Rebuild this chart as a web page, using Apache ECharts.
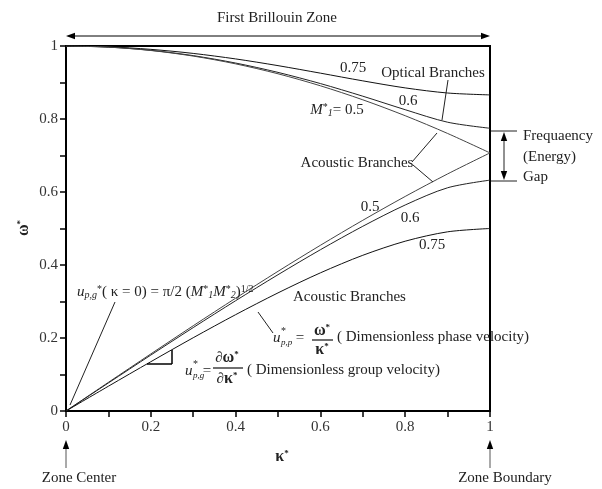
<!DOCTYPE html>
<html><head><meta charset="utf-8">
<script src="https://cdn.jsdelivr.net/npm/echarts@6/dist/echarts.min.js"></script>
<style>html,body{margin:0;padding:0;background:#fff}#c{width:602px;height:489px}</style>
</head><body><div id="c"></div>
<script>
// Dimensionless wave number kappa*
const kappa = [0, 0.1, 0.2, 0.3, 0.4, 0.5, 0.6, 0.7, 0.8, 0.9, 1.0];
// Optical branches (omega*)
const optical050 = [1, 0.9969, 0.9877, 0.9724, 0.9511, 0.9239, 0.8910, 0.8526, 0.8090, 0.7604, 0.7071];
const optical060 = [1, 0.9970, 0.9882, 0.9736, 0.9533, 0.9277, 0.8971, 0.8625, 0.8255, 0.7912, 0.7746];
const optical075 = [1, 0.9977, 0.9908, 0.9797, 0.9646, 0.9462, 0.9256, 0.9045, 0.8852, 0.8712, 0.8660];
// Acoustic branches (omega*)
const acoustic050 = [0, 0.0785, 0.1564, 0.2335, 0.3090, 0.3827, 0.4540, 0.5225, 0.5878, 0.6495, 0.7071];
const acoustic060 = [0, 0.0768, 0.1532, 0.2285, 0.3021, 0.3734, 0.4418, 0.5061, 0.5644, 0.6116, 0.6325];
const acoustic075 = [0, 0.0679, 0.1350, 0.2007, 0.2639, 0.3236, 0.3785, 0.4266, 0.4652, 0.4909, 0.5000];
// Tick labels
const xTickLabels = ['0', '', '0.2', '', '0.4', '', '0.6', '', '0.8', '', '1'];
const yTickLabels = ['0', '', '0.2', '', '0.4', '', '0.6', '', '0.8', '', '1'];

const F = '"Liberation Serif", "Times New Roman", serif';
const INK = '#222';
const chart = echarts.init(document.getElementById('c'), null, {renderer: 'canvas'});

function mk(arr) { return kappa.map((k, i) => [k, arr[i]]); }
function ser(name, arr, color) {
  return {
    name, type: 'line', data: mk(arr), showSymbol: false, smooth: 0.3,
    lineStyle: {color: color || '#222', width: 1}, silent: true, animation: false
  };
}

function txt(x, y, text, o) {
  o = o || {};
  return {
    type: 'text', x, y, rotation: o.rot || 0, silent: true, z: 100,
    style: {
      text, font: (o.style || '') + ' ' + (o.weight || 'normal') + ' ' + (o.size || 15) + 'px ' + F,
      fill: o.fill || INK,
      align: o.align || 'center', verticalAlign: o.va || 'middle',
      textAlign: o.align || 'center', textVerticalAlign: o.va || 'middle',
      rich: o.rich
    }
  };
}
function ln(x1, y1, x2, y2, w, c) {
  return {type: 'line', silent: true, z: 100, shape: {x1, y1, x2, y2},
    style: {stroke: c || INK, lineWidth: w || 1}};
}
function head(x, y, dir) { // tip at (x,y)
  const L = 9, H = 3.2;
  let pts;
  if (dir === 'up') pts = [[x, y], [x - H, y + L], [x + H, y + L]];
  else if (dir === 'down') pts = [[x, y], [x - H, y - L], [x + H, y - L]];
  else if (dir === 'left') pts = [[x, y], [x + L, y - H], [x + L, y + H]];
  else pts = [[x, y], [x - L, y - H], [x - L, y + H]];
  return {type: 'polygon', silent: true, z: 100, shape: {points: pts}, style: {fill: '#000'}};
}
// italic u with stacked * (top) and subscript (bottom)
function uStack(x, y, sub) {
  return [
    txt(x, y, 'u', {align: 'left', style: 'italic'}),
    txt(x + 8, y - 7, '*', {align: 'left', size: 10}),
    txt(x + 8, y + 5, sub, {align: 'left', size: 9, style: 'italic'})
  ];
}

const richBase = {
  i: {font: 'italic 15px ' + F, fill: INK},
  n: {font: '15px ' + F, fill: INK},
  sup: {font: '10px ' + F, fill: INK, verticalAlign: 'top', padding: [0, 0, 6, 0]},
  sub: {font: 'italic 10px ' + F, fill: INK, verticalAlign: 'bottom', padding: [6, 0, 0, 0]},
  b: {font: 'bold 16px ' + F, fill: INK},
  bs: {font: 'bold 9px ' + F, fill: INK, verticalAlign: 'top', padding: [0, 0, 7, 0]}
};

const graphics = [
  txt(277, 18, 'First Brillouin Zone'),
  ln(70, 36, 486, 36, 1, '#000'), head(66, 36, 'left'), head(490, 36, 'right'),
  // Zone markers
  ln(66, 448, 66, 468, 1, '#555'), head(66, 440, 'up'),
  ln(490, 448, 490, 468, 1, '#555'), head(490, 440, 'up'),
  txt(79, 478, 'Zone Center'),
  txt(505, 478, 'Zone Boundary'),
  // axis names
  txt(282, 457, '{b|κ}{bs|*}', {rich: richBase}),
  txt(24, 228, '{b|ω}{bs|*}', {rich: richBase, rot: Math.PI / 2}),
  // Optical labels
  txt(353, 68, '0.75'),
  txt(433, 73, 'Optical Branches'),
  txt(408, 101, '0.6'),
  txt(337, 110, '{i|M}{sup|*}{sub|1}{n|= 0.5}', {rich: richBase}),
  ln(448, 80, 442, 120),
  // Acoustic upper labels
  txt(357, 163, 'Acoustic Branches'),
  ln(412, 162, 437, 133), ln(413, 165, 433, 182),
  txt(370, 207, '0.5'),
  txt(410, 218, '0.6'),
  txt(432, 245, '0.75'),
  // Gap
  ln(491, 131, 517, 131), ln(491, 181, 517, 181),
  ln(504, 138, 504, 174), head(504, 132, 'up'), head(504, 180, 'down'),
  txt(523, 136, 'Frequaency', {align: 'left'}),
  txt(523, 157, '(Energy)', {align: 'left'}),
  txt(523, 177, 'Gap', {align: 'left'}),
  // Lower acoustic label
  txt(293, 297, 'Acoustic Branches', {align: 'left'}),
  // group velocity at k=0 formula
  txt(77, 292, '{i|u}{sub|p,g}{sup|*}{n|( κ = 0) = π/2 (}{i|M}{sup|*}{sub|1}{i|M}{sup|*}{sub|2}{n|)}{sup|1/2}', {align: 'left', rich: richBase}),
  ln(115, 302, 70, 405),
  // phase velocity
  ...uStack(273, 338, 'p,p'),
  txt(300, 338, '='),
  txt(322, 331, '{b|ω}{bs|*}', {rich: richBase}),
  ln(312, 340, 333, 340, 1.3),
  txt(322, 350, '{b|κ}{bs|*}', {rich: richBase}),
  txt(337, 337, '( Dimensionless phase velocity)', {align: 'left'}),
  ln(258, 312, 273, 333),
  // group velocity
  ...uStack(185, 371, 'p,g'),
  txt(207, 371, '='),
  txt(227, 358, '{n|∂}{b|ω}{bs|*}', {rich: richBase}),
  ln(213, 368, 243, 368, 1.3),
  txt(227, 379, '{n|∂}{b|κ}{bs|*}', {rich: richBase}),
  txt(247, 370, '( Dimensionless group velocity)', {align: 'left'}),
  // slope triangle
  ln(147, 364, 172, 364, 1.5, '#000'), ln(172, 364, 172, 350, 1.5, '#000')
];

chart.setOption({
  animation: false,
  backgroundColor: '#fff',
  grid: {left: 66, top: 46, width: 424, height: 365, show: true, borderColor: '#000', borderWidth: 2, backgroundColor: 'transparent'},
  xAxis: {
    type: 'value', min: 0, max: 1, interval: 0.1,
    axisLine: {show: true, lineStyle: {color: '#000', width: 2}},
    axisTick: {show: true, length: 6, lineStyle: {color: '#000', width: 1.5}},
    splitLine: {show: false},
    axisLabel: {color: '#333', fontFamily: F, fontSize: 15, margin: 9,
      formatter: v => xTickLabels[Math.round(v * 10)]}
  },
  yAxis: {
    type: 'value', min: 0, max: 1, interval: 0.1,
    axisLine: {show: true, lineStyle: {color: '#000', width: 2}},
    axisTick: {show: true, length: 6, lineStyle: {color: '#000', width: 1.5}},
    splitLine: {show: false},
    axisLabel: {color: '#333', fontFamily: F, fontSize: 15, margin: 8,
      formatter: v => yTickLabels[Math.round(v * 10)]}
  },
  series: [
    ser('Optical 0.75', optical075, '#111'),
    ser('Optical 0.6', optical060, '#222'),
    ser('Optical 0.5', optical050, '#444'),
    ser('Acoustic 0.5', acoustic050, '#444'),
    ser('Acoustic 0.6', acoustic060, '#222'),
    ser('Acoustic 0.75', acoustic075, '#111')
  ],
  graphic: graphics
});
</script>
</body></html>
